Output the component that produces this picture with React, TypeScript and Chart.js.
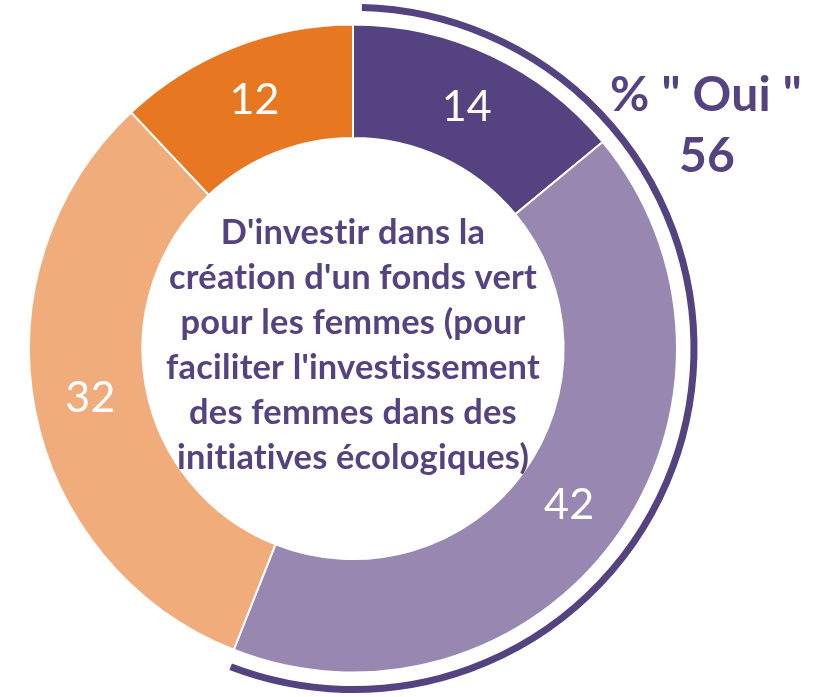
import React, { useEffect, useRef } from "react";
import { Chart, registerables } from "chart.js";

Chart.register(...registerables);

const categories = ["Oui, tout à fait", "Oui, plutôt", "Non, plutôt pas", "Non, pas du tout"];
const values = [14, 42, 32, 12];
const colors = ["#554280", "#9787b1", "#f0ad7b", "#e87722"];
const centerLines = [
  "D'investir dans la",
  "création d'un fonds vert",
  "pour les femmes (pour",
  "faciliter l'investissement",
  "des femmes dans des",
  "initiatives écologiques)",
];
const ouiTitle = '% " Oui "';
const ouiValue = String(values[0] + values[1]);
const ouiShare = (values[0] + values[1]) / values.reduce((a, b) => a + b, 0);

const PURPLE = "#554280";
const FONT = "Lato, 'Open Sans', sans-serif";

const overlayPlugin = {
  id: "overlay",
  afterDraw(chart: any) {
    const ctx = chart.ctx;
    const meta = chart.getDatasetMeta(0);
    const arc0 = meta.data[0];
    const cx = arc0.x;
    const cy = arc0.y;
    const outer = arc0.outerRadius;
    ctx.save();
    try {
      (ctx as any).letterSpacing = "0.2px";
    } catch (e) {}
    // value labels
    ctx.fillStyle = "#ffffff";
    ctx.font = `400 43px ${FONT}`;
    ctx.textAlign = "center";
    ctx.textBaseline = "middle";
    meta.data.forEach((el: any, i: number) => {
      const p = el.getCenterPoint();
      ctx.fillText(String(values[i]), p.x, p.y);
    });
    // outer "Oui" arc
    ctx.strokeStyle = PURPLE;
    ctx.lineWidth = 7;
    ctx.beginPath();
    const start = -Math.PI / 2 + 0.026;
    const end = -Math.PI / 2 + Math.PI * 2 * ouiShare - 0.01;
    ctx.arc(cx, cy, outer + 17, start, end);
    ctx.stroke();
    // center text
    ctx.fillStyle = PURPLE;
    let size = 34;
    ctx.font = `700 ${size}px ${FONT}`;
    const longest = Math.max(...centerLines.map((l) => ctx.measureText(l).width));
    size = size * (374 / longest);
    ctx.font = `700 ${size}px ${FONT}`;
    const lineH = 45;
    const firstY = 233;
    centerLines.forEach((l, i) => {
      ctx.fillText(l, cx, firstY + i * lineH);
    });
    // Oui text
    ctx.font = `700 48px ${FONT}`;
    ctx.fillText(ouiTitle, 706, 96);
    ctx.fillText(ouiValue, 707, 157);
    ctx.restore();
  },
};

export default function App() {
  const ref = useRef<HTMLCanvasElement>(null);
  useEffect(() => {
    document.body.style.margin = "0";
    const chart = new Chart(ref.current!, {
      type: "doughnut",
      data: {
        labels: categories,
        datasets: [
          {
            data: values,
            backgroundColor: colors,
            borderColor: "#ffffff",
            borderWidth: 2,
            hoverOffset: 0,
          },
        ],
      },
      options: {
        animation: false,
        responsive: false,
        cutout: "65%",
        layout: { padding: { left: 28, right: 147, top: 23, bottom: 23 } },
        plugins: { legend: { display: false }, tooltip: { enabled: false } },
      },
      plugins: [overlayPlugin],
    });
    return () => chart.destroy();
  }, []);
  return (
    <div style={{ width: 825, height: 697, background: "#fff" }}>
      <canvas ref={ref} width={825} height={697} style={{ display: "block" }} />
    </div>
  );
}
